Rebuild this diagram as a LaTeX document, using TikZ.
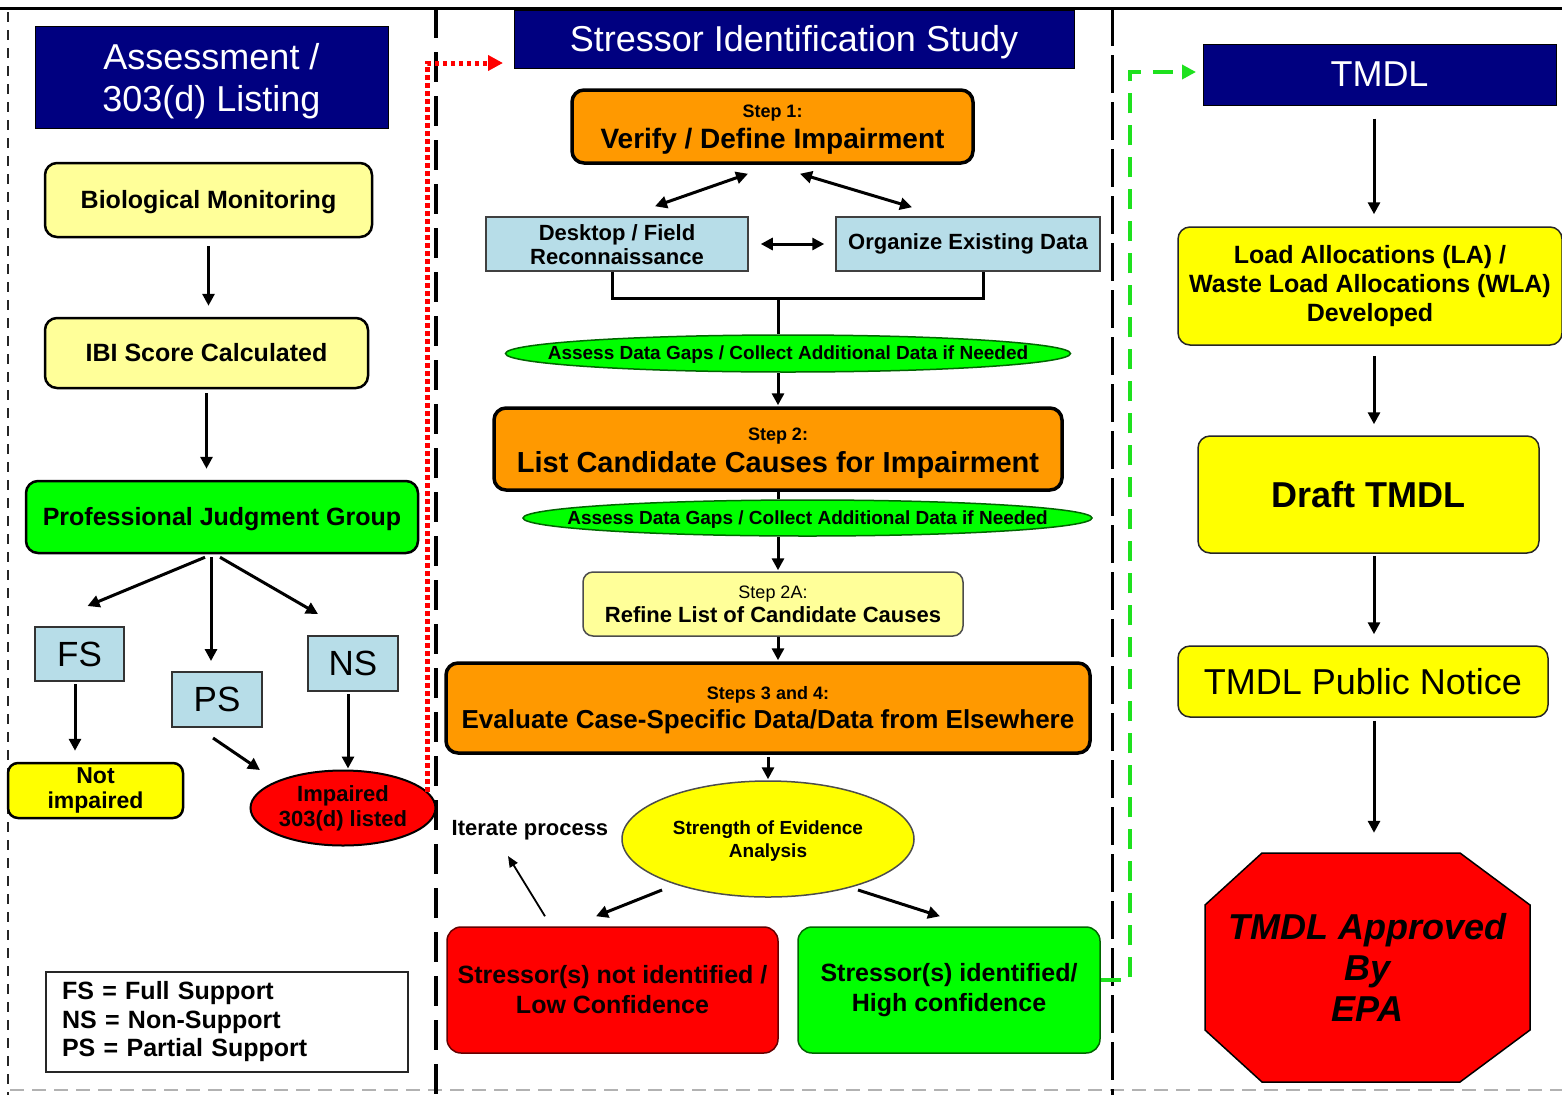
\documentclass[tikz,border=0pt]{standalone}
\usepackage{fontspec}
\setmainfont{Liberation Sans}
\usetikzlibrary{arrows.meta,calc,shapes.geometric}

\definecolor{navy}{RGB}{0,0,128}
\definecolor{ltyel}{RGB}{255,255,153}
\definecolor{yel}{RGB}{255,255,0}
\definecolor{grn}{RGB}{0,255,0}
\definecolor{dgrn}{RGB}{30,225,30}
\definecolor{orng}{RGB}{255,153,0}
\definecolor{ltblue}{RGB}{183,221,232}
\definecolor{rd}{RGB}{255,0,0}
\definecolor{dkred}{RGB}{10,0,0}

\begin{document}
\begin{tikzpicture}[x=1pt,y=-1pt,
  title/.style={fill=navy,draw=black,line width=1pt,text=white,align=center,
    inner sep=0pt,font=\fontsize{36}{42}\selectfont},
  lybox/.style={rounded corners=12pt,fill=ltyel,draw=black,line width=2.5pt,
    align=center,inner sep=0pt,font=\bfseries\fontsize{25}{29}\selectfont},
  ybox/.style={rounded corners=12pt,fill=yel,draw=black!85,line width=1.5pt,
    align=center,inner sep=0pt,font=\bfseries\fontsize{25}{29}\selectfont},
  obox/.style={rounded corners=12pt,fill=orng,draw=black,line width=3.5pt,
    align=center,inner sep=0pt},
  bbox/.style={fill=ltblue,draw=black!75,line width=1.5pt,align=center,
    inner sep=0pt,font=\bfseries\fontsize{22}{24}\selectfont},
  sbox/.style={fill=ltblue,draw=black!80,line width=2pt,inner sep=0pt,
    font=\fontsize{35}{38}\selectfont},
  gapell/.style={ellipse,fill=grn,draw=black!60!green,line width=1.5pt,inner sep=0pt,
    font=\bfseries\fontsize{19}{22}\selectfont},
  arr/.style={line width=3pt,-{Triangle[length=12pt,width=12pt]}},
  darr/.style={line width=3pt,{Triangle[length=12pt,width=12pt]}-{Triangle[length=12pt,width=12pt]}}
]
\useasboundingbox (0,0) rectangle (1562,1095);
\fill[white] (0,0) rectangle (1562,1095);

% ---------- frame and column dividers ----------
\draw[line width=3pt] (0,8) -- (1562,8);
\draw[black!30,line width=1.5pt,dash pattern=on 14pt off 8pt] (10,1090) -- (1562,1090);
\draw[black!85,line width=2pt,dash pattern=on 10pt off 8pt] (8,12) -- (8,1095);
\draw[line width=4pt,dash pattern=on 30pt off 14pt] (436,8) -- (436,1095);
\draw[line width=3pt,dash pattern=on 38pt off 9pt] (1112,8) -- (1112,1095);

% ---------- Assessment / 303(d) Listing ----------
\node[title,minimum width=353pt,minimum height=102pt] (asmt) at (211.5,77) {\rule{0pt}{34pt}Assessment /\\303(d) Listing};
\node[lybox,minimum width=327pt,minimum height=74pt] (bio) at (208.5,200) {\rule{0pt}{22pt}Biological Monitoring};
\node[lybox,minimum width=323pt,minimum height=70pt] (ibi) at (206.5,353) {IBI Score Calculated};
\node[rounded corners=12pt,fill=grn,draw=black,line width=2.5pt,inner sep=0pt,
  font=\bfseries\fontsize{25}{29}\selectfont,minimum width=392pt,minimum height=72pt] (pjg) at (222,517) {\rule{0pt}{22pt}Professional Judgment Group};
\node[sbox,minimum width=89pt,minimum height=54pt] (fs) at (79.5,654) {FS};
\node[sbox,minimum width=90pt,minimum height=55pt] (ps) at (217,699.5) {PS};
\node[sbox,minimum width=90pt,minimum height=55pt] (ns) at (353,663.5) {NS};
\node[rounded corners=10pt,fill=yel,draw=black,line width=2.5pt,align=center,inner sep=0pt,
  font=\bfseries\fontsize{23}{25}\selectfont,minimum width=175pt,minimum height=55pt] (notimp) at (95.5,790.5) {Not\\impaired};
\node[ellipse,fill=rd,draw=black,line width=2pt,align=center,inner sep=0pt,text=dkred,
  font=\bfseries\fontsize{22}{25}\selectfont,minimum width=185pt,minimum height=75pt] (imp) at (343,808) {Impaired\\303(d) listed};
\node[draw=black!85,line width=1.5pt,fill=white,align=left,inner sep=0pt,text width=330pt,
  font=\bfseries\fontsize{25}{28.5}\selectfont,minimum width=362pt,minimum height=100pt] (legend) at (227,1022)
  {FS = Full Support\\NS = Non-Support\\PS = Partial Support};

\draw[arr,shorten <=8pt,shorten >=11pt] (bio.south) -- (bio.south |- ibi.north);
\draw[arr,shorten <=4pt,shorten >=11pt] (ibi.south) -- (ibi.south |- pjg.north);
\draw[arr] ($(pjg.south)+(-17,3)$) -- ($(fs.north)+(8,-20)$);
\draw[arr] ($(pjg.south)+(-11,3)$) -- ($(ps.north)+(-6,-10)$);
\draw[arr] ($(pjg.south)+(-2,3)$) -- ($(ns.north)+(-35,-21)$);
\draw[arr] ($(fs.south)+(-4.5,2)$) -- ($(notimp.north)+(-20.5,-11)$);
\draw[arr] ($(ps.south)+(-4,10)$) -- ($(imp.center)+(-83,-38)$);
\draw[arr] ($(ns.south)+(-5,2)$) -- ($(imp.north)+(5,-1)$);

% ---------- Stressor Identification Study ----------
\node[title,minimum width=560pt,minimum height=58pt] (sis) at (794,39) {\rule{0pt}{32pt}Stressor Identification Study};
\node[obox,minimum width=401pt,minimum height=73pt] (s1) at (772.5,126.5)
  {{\bfseries\fontsize{18}{20}\selectfont\rule{0pt}{19pt}Step 1:}\\[6pt]{\bfseries\fontsize{28}{30}\selectfont Verify / Define Impairment}};
\node[bbox,minimum width=262pt,minimum height=54pt] (dfr) at (617,244) {\rule{0pt}{18pt}Desktop / Field\\Reconnaissance};
\node[bbox,minimum width=264pt,minimum height=54pt] (oed) at (968,244) {Organize Existing Data};
\node[gapell,minimum width=565pt,minimum height=37pt] (gap1) at (788,353.5)
  {\makebox[0pt]{\rule{0pt}{16pt}Assess Data Gaps / Collect Additional Data if Needed}};
\node[obox,minimum width=568pt,minimum height=82pt] (s2) at (778,449)
  {{\bfseries\fontsize{18}{20}\selectfont\rule{0pt}{21pt}Step 2:}\\[7pt]{\bfseries\fontsize{29}{31}\selectfont List Candidate Causes for Impairment}};
\node[gapell,minimum width=569pt,minimum height=36pt] (gap2) at (807.5,518)
  {\makebox[0pt]{\rule{0pt}{16pt}Assess Data Gaps / Collect Additional Data if Needed}};
\node[rounded corners=10pt,fill=ltyel,draw=black!70,line width=1.5pt,align=center,inner sep=0pt,
  minimum width=380pt,minimum height=64pt] (s2a) at (773,604)
  {{\fontsize{18}{20}\selectfont Step 2A:}\\[3pt]{\bfseries\fontsize{22}{24}\selectfont Refine List of Candidate Causes}};
\node[obox,minimum width=644pt,minimum height=90pt] (s34) at (768,708)
  {{\bfseries\fontsize{18}{20}\selectfont\rule{0pt}{17pt}Steps 3 and 4:}\\[5pt]{\bfseries\fontsize{26}{28}\selectfont Evaluate Case-Specific Data/Data from Elsewhere}};
\node[ellipse,fill=yel,draw=black!70,line width=1.5pt,align=center,inner sep=0pt,
  font=\bfseries\fontsize{19}{23}\selectfont,minimum width=292pt,minimum height=116pt] (soe) at (768,839)
  {\rule{0pt}{18pt}Strength of Evidence\\Analysis};
\node[font=\bfseries\fontsize{22}{24}\selectfont,inner sep=0pt] (iter) at (530,828) {\rule{0pt}{19pt}Iterate process};
\node[rounded corners=14pt,fill=rd,draw=black!60!red,line width=1.5pt,align=center,inner sep=0pt,text=dkred,
  font=\bfseries\fontsize{25}{30}\selectfont,minimum width=331pt,minimum height=126pt] (lo) at (612.5,990)
  {Stressor(s) not identified /\\Low Confidence};
\node[rounded corners=14pt,fill=grn,draw=black!60!green,line width=1.5pt,align=center,inner sep=0pt,
  font=\bfseries\fontsize{25}{30}\selectfont,minimum width=302pt,minimum height=126pt] (hi) at (949,990)
  {Stressor(s) identified/\\High confidence};

\draw[darr] ($(dfr.north)+(38,-10)$) -- ($(s1.south)+(-24.5,9)$);
\draw[darr] ($(s1.south)+(27.5,9)$) -- ($(oed.north)+(-56,-9)$);
\draw[darr,shorten <=12pt,shorten >=11pt] (dfr.east) -- (oed.west);
\coordinate (brk) at (778,298);
\draw[line width=3pt] ($(dfr.south)+(-5,0)$) |- (brk) -| ($(oed.south)+(15,0)$);
\draw[line width=3pt] (brk) -- (brk |- gap1.north);
\draw[arr] (brk |- gap1.south) -- ($(brk |- s2.north)+(0,-1)$);
\draw[line width=3pt] (brk |- s2.south) -- (brk |- gap2.north);
\draw[arr] (brk |- gap2.south) -- ($(brk |- s2a.north)+(0,-1)$);
\draw[arr] (brk |- s2a.south) -- ($(brk |- s34.north)+(0,-1)$);
\draw[arr,shorten <=2pt] (s34.south) -- ($(soe.north)+(0,-1)$);
\draw[arr] ($(soe.center)+(-106,51)$) -- ($(lo.north)+(-16.5,-10)$);
\draw[arr] ($(soe.center)+(90,51)$) -- ($(hi.north)+(-9,-10)$);
\draw[line width=1.8pt,-{Triangle[length=11pt,width=9pt]}] ($(lo.north)+(-67.5,-10)$) -- ($(iter.south)+(-22,16)$);

% ---------- TMDL ----------
\node[title,minimum width=353pt,minimum height=61pt] (tmdl) at (1379.5,74.5) {TMDL};
\node[ybox,minimum width=384pt,minimum height=118pt] (la) at (1370,286)
  {Load Allocations (LA) /\\Waste Load Allocations (WLA)\\Developed};
\node[ybox,minimum width=341pt,minimum height=117pt,font=\bfseries\fontsize{36}{40}\selectfont] (draft) at (1368.5,494.5) {Draft TMDL};
\node[ybox,minimum width=370pt,minimum height=71pt,font=\fontsize{36}{40}\selectfont] (pn) at (1363,681.5) {TMDL Public Notice};
\fill[rd,draw=black,line width=1.5pt] (1262,853) -- (1460,853) -- (1530,905) -- (1530,1030) -- (1460,1082)
  -- (1262,1082) -- (1205,1030) -- (1205,905) -- cycle;
\node[align=center,inner sep=0pt,font=\bfseries\itshape\fontsize{36}{41}\selectfont,
  minimum width=325pt,minimum height=229pt] (epa) at (1367.5,967.5) {TMDL Approved\\By\\EPA};

\coordinate (rc) at (1374,0);
\draw[arr,shorten <=13pt,shorten >=12pt] (rc |- tmdl.south) -- (rc |- la.north);
\draw[arr,shorten <=10pt,shorten >=11pt] (rc |- la.south) -- (rc |- draft.north);
\draw[arr,shorten <=2pt,shorten >=11pt] (rc |- draft.south) -- (rc |- pn.north);
\draw[arr,shorten <=3pt,shorten >=20pt] (rc |- pn.south) -- (rc |- epa.north);

% ---------- hand-off connectors between columns ----------
\coordinate (redend) at (503,63);
\draw[rd,line width=5pt,dash pattern=on 4.5pt off 3.5pt,-{Triangle[length=15pt,width=15pt]}]
  (imp.11) |- (redend);
\coordinate (grnend) at (1196,72);
\draw[dgrn,line width=4pt,dash pattern=on 20pt off 12pt,-{Triangle[length=14pt,width=14pt]}]
  ($(hi.east)+(0,-10)$) -| (1130,72) -- (grnend);
\end{tikzpicture}
\end{document}
